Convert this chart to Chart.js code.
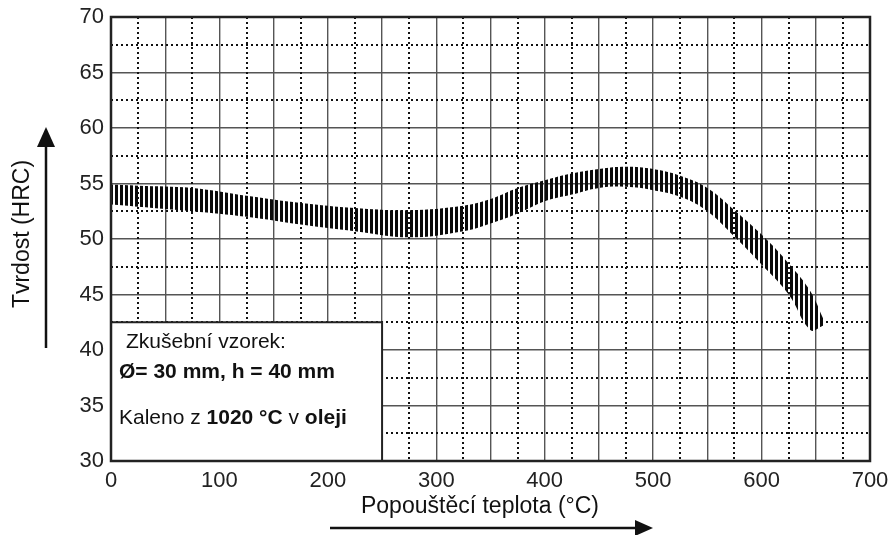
<!DOCTYPE html>
<html>
<head>
<meta charset="utf-8">
<script src="https://cdn.jsdelivr.net/npm/chart.js@4.4.1/dist/chart.umd.min.js"></script>
<style>
  body { margin: 0; background: #fff; }
  #wrap { width: 891px; height: 535px; }
</style>
</head>
<body>
<div id="wrap"><canvas id="hardness" width="891" height="535"></canvas></div>
<script>
// tempering temperature (°C) and the upper / lower edge of the hardness band (HRC)
const temps = [0, 25, 75, 125, 175, 225, 275, 325, 350, 375, 400, 425, 450, 475, 500, 525, 550, 575, 600, 625, 645, 657];
const upperHRC = [54.9, 54.8, 54.6, 53.9, 53.25, 52.8, 52.6, 53.0, 53.6, 54.6, 55.3, 55.9, 56.3, 56.5, 56.3, 55.7, 54.6, 52.6, 50.4, 47.8, 45.3, 42.8];
const lowerHRC = [53.1, 52.9, 52.5, 52.0, 51.3, 50.7, 50.15, 50.7, 51.4, 52.3, 53.4, 54.0, 54.6, 54.7, 54.4, 53.8, 52.5, 50.2, 47.7, 45.0, 41.8, 42.2];

const xTitle = 'Popouštěcí teplota (°C)';
const yTitle = 'Tvrdost (HRC)';
const FONT = '"Liberation Sans", Arial, sans-serif';

// vertical hatching for the band
function stripes() {
  const c = document.createElement('canvas');
  c.width = 5; c.height = 4;
  const g = c.getContext('2d');
  g.fillStyle = '#0a0a0a';
  g.fillRect(0, 0, 3, 4);
  return g.createPattern(c, 'repeat');
}

const decor = {
  id: 'decor',
  beforeDatasetsDraw(chart) {
    const { ctx, chartArea: a, scales: { x, y } } = chart;
    ctx.save();
    ctx.strokeStyle = '#111';
    ctx.lineWidth = 2;
    ctx.setLineDash([2, 3]);
    for (let v = 25; v < 700; v += 50) {
      const px = Math.round(x.getPixelForValue(v));
      ctx.beginPath(); ctx.moveTo(px, a.top); ctx.lineTo(px, a.bottom); ctx.stroke();
    }
    for (let v = 32.5; v < 70; v += 5) {
      const py = Math.round(y.getPixelForValue(v));
      ctx.beginPath(); ctx.moveTo(a.left, py); ctx.lineTo(a.right, py); ctx.stroke();
    }
    ctx.restore();
  },
  afterDatasetsDraw(chart) {
    const { ctx, scales: { x, y } } = chart;
    // note box in the lower left corner
    const bx = x.getPixelForValue(0), br = x.getPixelForValue(250);
    const bt = y.getPixelForValue(42.5), bb = y.getPixelForValue(30);
    ctx.save();
    ctx.fillStyle = '#fff';
    ctx.fillRect(bx, bt, br - bx, bb - bt);
    ctx.strokeStyle = '#222';
    ctx.lineWidth = 2;
    ctx.strokeRect(bx, bt, br - bx, bb - bt);

    ctx.fillStyle = '#111';
    ctx.textBaseline = 'middle';
    ctx.textAlign = 'left';
    const runs = (parts, sx, sy) => {
      let cx = sx;
      parts.forEach(([t, bold]) => {
        ctx.font = (bold ? 'bold ' : '') + '21px ' + FONT;
        ctx.fillText(t, cx, sy);
        cx += ctx.measureText(t).width;
      });
    };
    runs([['Zkušební vzorek:', false]], bx + 15, bt + 20);
    runs([['Ø= 30 mm, h = 40 mm', true]], bx + 8, bt + 50);
    runs([['Kaleno z ', false], ['1020 °C', true], [' v ', false], ['oleji', true]], bx + 8, bt + 96);
    ctx.restore();
  },
  afterDraw(chart) {
    const { ctx, chartArea: a } = chart;
    ctx.save();
    // frame
    ctx.strokeStyle = '#222';
    ctx.lineWidth = 2.5;
    ctx.strokeRect(a.left, a.top, a.right - a.left, a.bottom - a.top);

    // axis titles
    ctx.fillStyle = '#111';
    ctx.font = '23px ' + FONT;
    ctx.textAlign = 'center';
    ctx.textBaseline = 'middle';
    ctx.fillText(xTitle, 480, 507);
    ctx.save();
    ctx.translate(23, 234);
    ctx.rotate(-Math.PI / 2);
    ctx.fillText(yTitle, 0, 0);
    ctx.restore();

    // arrows
    ctx.strokeStyle = '#111';
    ctx.lineWidth = 2.5;
    ctx.beginPath(); ctx.moveTo(46, 348); ctx.lineTo(46, 142); ctx.stroke();
    ctx.beginPath(); ctx.moveTo(37, 147); ctx.lineTo(55, 147); ctx.lineTo(46, 127); ctx.closePath(); ctx.fill();
    ctx.beginPath(); ctx.moveTo(330, 528); ctx.lineTo(640, 528); ctx.stroke();
    ctx.beginPath(); ctx.moveTo(635, 520); ctx.lineTo(635, 536); ctx.lineTo(653, 528); ctx.closePath(); ctx.fill();
    ctx.restore();
  }
};

new Chart(document.getElementById('hardness'), {
  type: 'line',
  data: {
    labels: temps,
    datasets: [
      {
        data: temps.map((t, i) => ({ x: t, y: upperHRC[i] })),
        borderWidth: 0,
        pointRadius: 0,
        backgroundColor: stripes(),
        fill: '+1',
        tension: 0.4
      },
      {
        data: temps.map((t, i) => ({ x: t, y: lowerHRC[i] })),
        borderWidth: 0,
        pointRadius: 0,
        fill: false,
        tension: 0.4
      }
    ]
  },
  options: {
    responsive: false,
    animation: false,
    devicePixelRatio: 1,
    layout: { padding: { top: 17, right: 21, left: 0, bottom: 0 } },
    plugins: { legend: { display: false }, tooltip: { enabled: false } },
    scales: {
      x: {
        type: 'linear',
        min: 0, max: 700,
        afterFit: s => { s.height = 74; s.paddingLeft = 0; s.paddingRight = 0; },
        border: { display: false },
        grid: { color: '#555', lineWidth: 1.4, drawTicks: false },
        ticks: {
          stepSize: 50,
          autoSkip: false,
          maxRotation: 0,
          padding: 7,
          color: '#222',
          font: { family: FONT, size: 22 },
          callback: v => (v % 100 === 0 ? v : '')
        }
      },
      y: {
        min: 30, max: 70,
        afterFit: s => { s.width = 111; s.paddingTop = 0; s.paddingBottom = 0; },
        border: { display: false },
        grid: { color: '#555', lineWidth: 1.4, drawTicks: false },
        ticks: {
          stepSize: 5,
          padding: 7,
          color: '#222',
          font: { family: FONT, size: 22 }
        }
      }
    }
  },
  plugins: [decor]
});
</script>
</body>
</html>
